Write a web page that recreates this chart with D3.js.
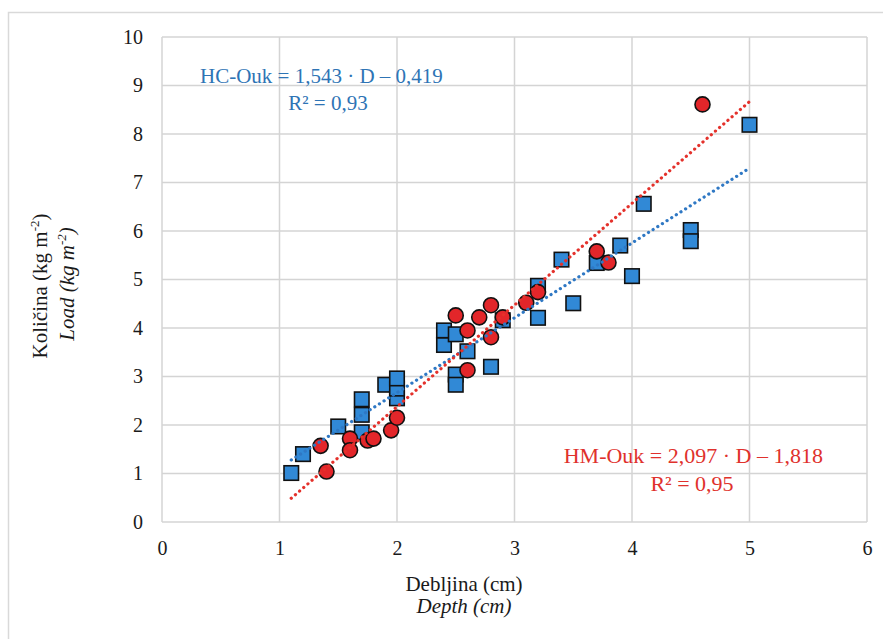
<!DOCTYPE html>
<html><head><meta charset="utf-8">
<script src="https://cdn.jsdelivr.net/npm/d3@7"></script>
<style>
html,body{margin:0;padding:0;background:#fff;}
svg text{font-family:"Liberation Serif","Times New Roman",serif;}
</style></head>
<body>
<svg id="chart" width="883" height="639"></svg>
<script>
// ---- data ----
const hcDepth = [1.1,1.2,1.5,1.7,1.7,1.7,1.9,2.0,2.0,2.0,2.4,2.4,2.5,2.5,2.5,2.6,2.8,2.9,3.2,3.2,3.4,3.5,3.7,3.9,4.0,4.1,4.5,4.5,5.0];
const hcLoad  = [1.01,1.40,1.97,1.85,2.21,2.53,2.83,2.55,2.75,2.96,3.65,3.95,3.87,3.04,2.83,3.52,3.20,4.16,4.21,4.87,5.41,4.51,5.34,5.70,5.07,6.56,6.02,5.79,8.19];
const hmDepth = [1.35,1.4,1.6,1.6,1.75,1.8,1.95,2.0,2.5,2.6,2.6,2.7,2.8,2.8,2.9,3.1,3.2,3.7,3.8,4.6];
const hmLoad  = [1.57,1.04,1.72,1.48,1.68,1.72,1.89,2.15,4.26,3.95,3.13,4.22,4.47,3.81,4.22,4.52,4.74,5.58,5.35,8.61];
const hcTrend = {slope:1.543, intercept:-0.419, from:1.1, to:5.0};
const hmTrend = {slope:2.097, intercept:-1.818, from:1.1, to:5.0};
const xTicks = [0,1,2,3,4,5,6];
const yTicks = [0,1,2,3,4,5,6,7,8,9,10];
const hcLabel = ["HC-Ouk = 1,543 · D – 0,419", "R² = 0,93"];
const hmLabel = ["HM-Ouk = 2,097 · D – 1,818", "R² = 0,95"];
const xTitle = ["Debljina (cm)", "Depth (cm)"];

// ---- layout ----
const svg = d3.select("#chart");
const L = 162, R = 867, T = 37, B = 522;
const x = d3.scaleLinear().domain([0,6]).range([L,R]);
const y = d3.scaleLinear().domain([0,10]).range([B,T]);
const grid = "#d4d4d4";
const blueFill = "#3189d6", redFill = "#e3262a";
const blueLine = "#2f78c4", redLine = "#e4312b";
const blueText = "#2e74b5", redText = "#e0312c";
const ink = "#1a1a1a";

// outer chart frame (partially visible)
svg.append("path").attr("d", `M8.5,639 L8.5,12.5 L883,12.5`).attr("fill","none").attr("stroke","#d9d9d9").attr("stroke-width",1.5);

// gridlines
svg.append("g").selectAll("line").data(yTicks).join("line")
  .attr("x1",L).attr("x2",R).attr("y1",d=>y(d)).attr("y2",d=>y(d))
  .attr("stroke",grid).attr("stroke-width",1.5);
svg.append("g").selectAll("line").data(xTicks).join("line")
  .attr("y1",T).attr("y2",B).attr("x1",d=>x(d)).attr("x2",d=>x(d))
  .attr("stroke",grid).attr("stroke-width",1.5);

// tick labels via d3 axes
const xAxis = svg.append("g").attr("transform",`translate(0,${B})`)
  .call(d3.axisBottom(x).tickValues(xTicks).tickFormat(d3.format("d")).tickSize(0).tickPadding(19));
const yAxis = svg.append("g").attr("transform",`translate(${L},0)`)
  .call(d3.axisLeft(y).tickValues(yTicks).tickFormat(d3.format("d")).tickSize(0).tickPadding(19));
[xAxis,yAxis].forEach(g=>{
  g.select(".domain").remove();
  g.selectAll("text").attr("font-size",20).attr("fill",ink).attr("font-family","Liberation Serif");
});

// markers: squares (HC)
const sq = 14.5;
svg.append("g").selectAll("rect").data(d3.zip(hcDepth,hcLoad)).join("rect")
  .attr("x",d=>x(d[0])-sq/2).attr("y",d=>y(d[1])-sq/2).attr("width",sq).attr("height",sq)
  .attr("fill",blueFill).attr("stroke","#111").attr("stroke-width",1.6);
// circles (HM)
svg.append("g").selectAll("circle").data(d3.zip(hmDepth,hmLoad)).join("circle")
  .attr("cx",d=>x(d[0])).attr("cy",d=>y(d[1])).attr("r",7.5)
  .attr("fill",redFill).attr("stroke","#111").attr("stroke-width",1.6);

// trendlines
function trend(t, color){
  const pts = [t.from, t.to].map(v=>[x(v), y(t.slope*v + t.intercept)]);
  svg.append("line").attr("x1",pts[0][0]).attr("y1",pts[0][1]).attr("x2",pts[1][0]).attr("y2",pts[1][1])
    .attr("stroke",color).attr("stroke-width",3.2).attr("stroke-linecap","round")
    .attr("stroke-dasharray","0.1 5.4");
}
trend(hcTrend, blueLine);
trend(hmTrend, redLine);

// equations
svg.append("text").attr("x",200).attr("y",83).attr("font-size",21).attr("fill",blueText).text(hcLabel[0]);
svg.append("text").attr("x",328).attr("y",110).attr("text-anchor","middle").attr("font-size",21).attr("fill",blueText).text(hcLabel[1]);
svg.append("text").attr("x",823).attr("y",463).attr("text-anchor","end").attr("font-size",22).attr("fill",redText).text(hmLabel[0]);
svg.append("text").attr("x",692).attr("y",491).attr("text-anchor","middle").attr("font-size",22).attr("fill",redText).text(hmLabel[1]);

// axis titles
svg.append("text").attr("x",464).attr("y",591).attr("text-anchor","middle").attr("font-size",21).attr("fill",ink).text(xTitle[0]);
svg.append("text").attr("x",464).attr("y",613).attr("text-anchor","middle").attr("font-size",21).attr("font-style","italic").attr("fill",ink).text(xTitle[1]);

const yt1 = svg.append("text").attr("transform","translate(47,286) rotate(-90)").attr("text-anchor","middle").attr("font-size",21).attr("fill",ink);
yt1.append("tspan").text("Količina (kg m");
yt1.append("tspan").attr("font-size",13).attr("dy",-8).text("-2");
yt1.append("tspan").attr("dy",8).text(")");
const yt2 = svg.append("text").attr("transform","translate(74,284) rotate(-90)").attr("text-anchor","middle").attr("font-size",21).attr("font-style","italic").attr("fill",ink);
yt2.append("tspan").text("Load (kg m");
yt2.append("tspan").attr("font-size",13).attr("dy",-8).text("-2");
yt2.append("tspan").attr("dy",8).text(")");
</script>
</body></html>
